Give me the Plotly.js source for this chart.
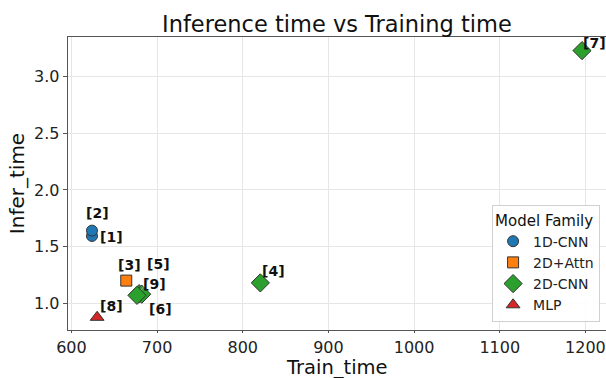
<!DOCTYPE html>
<html>
<head>
<meta charset="utf-8">
<script src="https://cdn.plot.ly/plotly-3.0.1.min.js"></script>
<style>html,body{margin:0;padding:0;background:#fff;}#chart{width:606px;height:378px;}</style>
</head>
<body>
<div id="chart"></div>
<script>
// ---- data ----
const labels  = ['[1]','[2]','[3]','[4]','[5]','[6]','[7]','[8]','[9]'];
const family  = ['1D-CNN','1D-CNN','2D+Attn','2D-CNN','2D-CNN','2D-CNN','2D-CNN','MLP','2D-CNN'];
const trainTime = [624, 624, 664, 820.5, 679, 682, 1196, 630, 676.5];
const inferTime = [1.594, 1.641, 1.20, 1.18, 1.085, 1.08, 3.23, 0.876, 1.07];
const families = ['1D-CNN','2D+Attn','2D-CNN','MLP'];
const xTicks = [600,700,800,900,1000,1100,1200];
const yTicks = [1.0,1.5,2.0,2.5,3.0];
const xTitle = 'Train_time';
const yTitle = 'Infer_time';

// ---- styles ----
const famStyle = {
  '1D-CNN': {color:'#1f77b4', symbol:'circle', size:11},
  '2D+Attn':{color:'#ff7f0e', symbol:'square', size:11},
  '2D-CNN': {color:'#2ca02c', symbol:'diamond', size:14},
  'MLP':    {color:'#d62728', symbol:'triangle-up', size:12}
};
// label offsets (pixels) and whether a leader line is drawn
const labelOffset = {
  '[1]':[20,1,false], '[2]':[6,-18,false], '[3]':[3,-16,false], '[4]':[13,-12,false],
  '[5]':[19,-30,true], '[6]':[19,15,true], '[7]':[12,-8,false], '[8]':[14,-11,false],
  '[9]':[18,-11,false]
};

const traces = families.map(f => {
  const idx = family.map((v,i)=>v===f?i:-1).filter(i=>i>=0);
  const st = famStyle[f];
  return {
    type:'scatter', mode:'markers', name:f,
    x: idx.map(i=>trainTime[i]), y: idx.map(i=>inferTime[i]),
    marker:{color:st.color, symbol:st.symbol, size:st.size, line:{color:'#333333', width:1}},
    cliponaxis:false
  };
});

const annotations = labels.map((t,i)=>{
  const o = labelOffset[t];
  return {
    x: trainTime[i], y: inferTime[i], xref:'x', yref:'y',
    text:'<b>'+t+'</b>', showarrow:true, ax:o[0], ay:o[1],
    arrowhead:0, arrowwidth:0.8, standoff:4, startstandoff:6,
    arrowcolor: o[2] ? '#aaaaaa' : 'rgba(0,0,0,0)',
    font:{family:'DejaVu Sans', size:14, color:'#111111'}
  };
});
annotations.push({
  text:xTitle, xref:'paper', yref:'paper', x:0.5, y:-0.0836, xanchor:'center', yanchor:'top',
  showarrow:false, font:{family:'DejaVu Sans', size:19.5, color:'#111111'}
});

const layout = {
  width:606, height:378,
  margin:{l:68, r:0, t:37, b:48},
  paper_bgcolor:'#ffffff', plot_bgcolor:'#ffffff',
  font:{family:'DejaVu Sans', color:'#222222'},
  title:{text:'Inference time vs Training time', font:{size:22.5, color:'#111111'}, x:0.556, xanchor:'center', y:0.915, yanchor:'bottom'},
  xaxis:{
    range:[596,1224], tickvals:xTicks, ticktext:xTicks.map(String),
    tickfont:{size:16, color:'#222222'}, ticks:'outside', ticklen:2, tickcolor:'#555555',
    showgrid:true, gridcolor:'#e6e6e6', gridwidth:1, zeroline:false,
    showline:true, linecolor:'#555555', linewidth:1.3, mirror:true
  },
  yaxis:{
    title:{text:yTitle, font:{size:20, color:'#111111'}, standoff:4},
    range:[0.764,3.35], tickvals:yTicks, ticktext:yTicks.map(v=>v.toFixed(1)),
    tickfont:{size:16, color:'#222222'}, ticks:'outside', ticklen:4, tickcolor:'#555555',
    showgrid:true, gridcolor:'#e6e6e6', gridwidth:1, zeroline:false,
    showline:true, linecolor:'#555555', linewidth:1.3, mirror:false
  },
  legend:{
    title:{text:'Model Family', font:{size:15, color:'#111111'}},
    x:0.989, y:0.027, xanchor:'right', yanchor:'bottom',
    bgcolor:'rgba(255,255,255,0.9)', bordercolor:'#d0d0d0', borderwidth:1,
    font:{size:14, color:'#222222'}, itemsizing:'trace', tracegroupgap:0
  },
  showlegend:true,
  annotations: annotations
};

Plotly.newPlot('chart', traces, layout, {displayModeBar:false, staticPlot:true});
</script>
</body>
</html>
